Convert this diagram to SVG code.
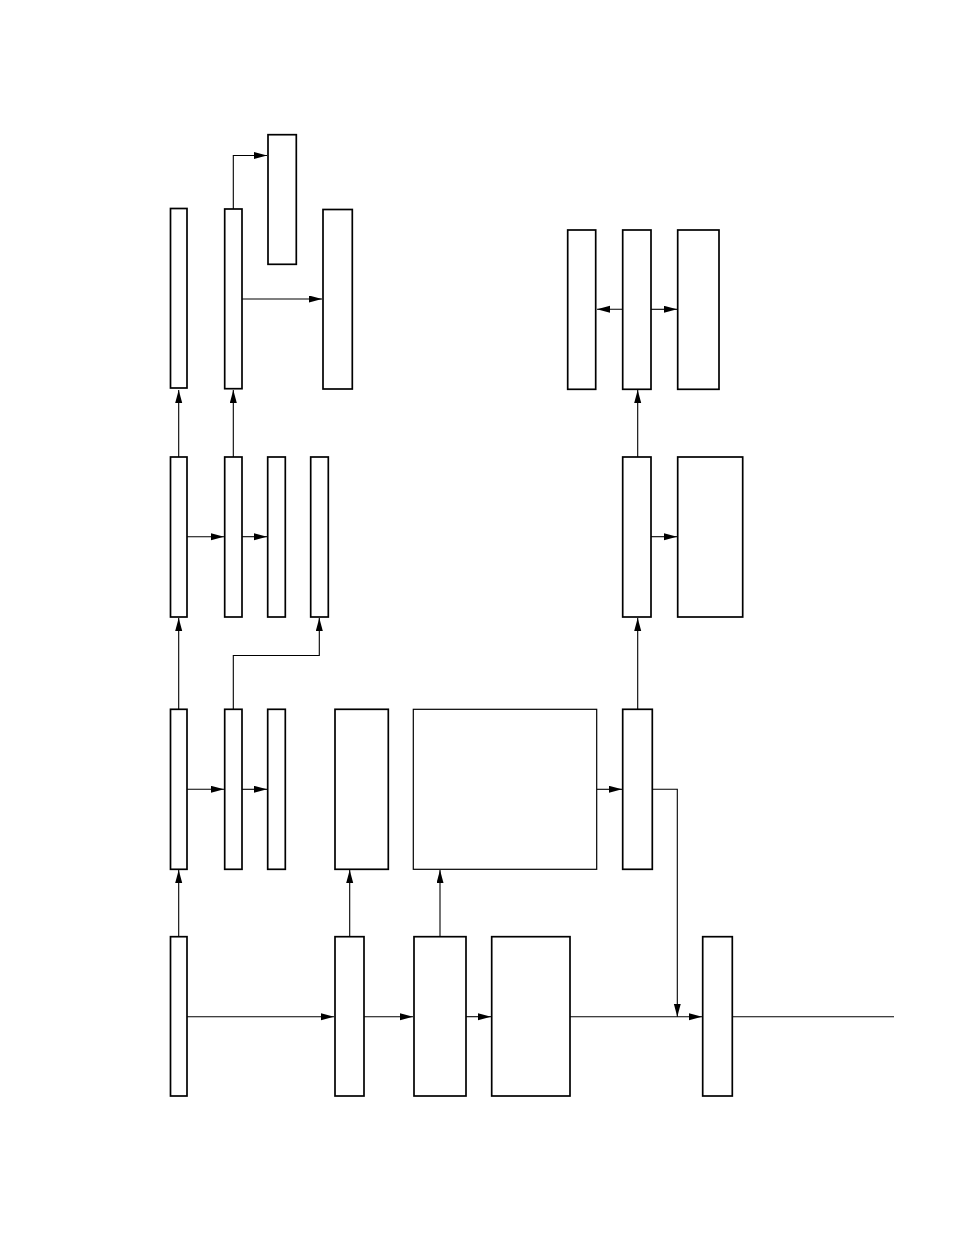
<svg xmlns="http://www.w3.org/2000/svg" width="954" height="1235" viewBox="0 0 954 1235">
<style>
.box{fill:#fff;stroke:#000;stroke-width:1.7}
.thin{fill:#fff;stroke:#000;stroke-width:1.2}
.c{fill:none;stroke:#000;stroke-width:1.1}
</style>
<defs>
<marker id="ah" markerUnits="userSpaceOnUse" markerWidth="14" markerHeight="8" refX="13" refY="3.5" orient="auto">
<path d="M0,0 L13,3.5 L0,7 z" fill="#000"/>
</marker>
</defs>
<rect width="954" height="1235" fill="#fff"/>
<g id="connectors">
<path class="c" d="M233.3,209 V155.5 H267" marker-end="url(#ah)"/>
<path class="c" d="M242,299 H322" marker-end="url(#ah)"/>
<path class="c" d="M178.7,457 V390" marker-end="url(#ah)"/>
<path class="c" d="M233.3,457 V390" marker-end="url(#ah)"/>
<path class="c" d="M187,536.7 H224" marker-end="url(#ah)"/>
<path class="c" d="M242,536.7 H267" marker-end="url(#ah)"/>
<path class="c" d="M637.7,309.3 H597" marker-end="url(#ah)"/>
<path class="c" d="M651,309.3 H677" marker-end="url(#ah)"/>
<path class="c" d="M637.7,457 V390" marker-end="url(#ah)"/>
<path class="c" d="M651,536.7 H677" marker-end="url(#ah)"/>
<path class="c" d="M178.7,709 V618" marker-end="url(#ah)"/>
<path class="c" d="M233.3,709 V655.5 H319.3 V618" marker-end="url(#ah)"/>
<path class="c" d="M637.7,709 V618" marker-end="url(#ah)"/>
<path class="c" d="M187,789.3 H224" marker-end="url(#ah)"/>
<path class="c" d="M242,789.3 H267" marker-end="url(#ah)"/>
<path class="c" d="M596.7,789.3 H622" marker-end="url(#ah)"/>
<path class="c" d="M652,789.3 H677.3 V1016.7" marker-end="url(#ah)"/>
<path class="c" d="M178.7,936.7 V870" marker-end="url(#ah)"/>
<path class="c" d="M349.7,936.7 V870" marker-end="url(#ah)"/>
<path class="c" d="M440,936.7 V870" marker-end="url(#ah)"/>
<path class="c" d="M187,1016.7 H334" marker-end="url(#ah)"/>
<path class="c" d="M364,1016.7 H413" marker-end="url(#ah)"/>
<path class="c" d="M466,1016.7 H491" marker-end="url(#ah)"/>
<path class="c" d="M570,1016.7 H702" marker-end="url(#ah)"/>
<path class="c" d="M732.3,1016.7 H894"/>
</g>
<g id="nA"><rect class="box" x="170.5" y="208.5" width="16.5" height="179.5"/></g>
<g id="nB"><rect class="box" x="224.7" y="209" width="17.3" height="179.7"/></g>
<g id="nC"><rect class="box" x="268" y="134.7" width="28.3" height="129.6"/></g>
<g id="nD"><rect class="box" x="323" y="209.5" width="29.3" height="179.5"/></g>
<g id="nE"><rect class="box" x="170.5" y="457" width="16.5" height="160"/></g>
<g id="nF"><rect class="box" x="224.7" y="457" width="17.3" height="160"/></g>
<g id="nG"><rect class="box" x="267.7" y="457" width="17.6" height="160"/></g>
<g id="nH"><rect class="box" x="310.7" y="457" width="17.6" height="160"/></g>
<g id="nI"><rect class="box" x="567.7" y="230" width="28" height="159.3"/></g>
<g id="nJ"><rect class="box" x="622.7" y="230" width="28.3" height="159.3"/></g>
<g id="nK"><rect class="box" x="677.7" y="230" width="41.3" height="159.3"/></g>
<g id="nL"><rect class="box" x="622.7" y="457" width="28.3" height="160"/></g>
<g id="nM"><rect class="box" x="677.7" y="457" width="65" height="160"/></g>
<g id="nN"><rect class="box" x="170.5" y="709.3" width="16.5" height="160"/></g>
<g id="nO"><rect class="box" x="224.7" y="709.3" width="17.3" height="160"/></g>
<g id="nP"><rect class="box" x="267.7" y="709.3" width="17.6" height="160"/></g>
<g id="nQ"><rect class="box" x="335" y="709.3" width="53.3" height="160"/></g>
<g id="nR"><rect class="thin" x="413.3" y="709.3" width="183.4" height="160"/></g>
<g id="nS"><rect class="box" x="622.7" y="709.3" width="29.6" height="160"/></g>
<g id="nT"><rect class="box" x="170.5" y="936.7" width="16.5" height="159.3"/></g>
<g id="nU"><rect class="box" x="335" y="936.7" width="29" height="159.3"/></g>
<g id="nV"><rect class="box" x="414" y="936.7" width="52" height="159.3"/></g>
<g id="nW"><rect class="box" x="491.7" y="936.7" width="78.3" height="159.3"/></g>
<g id="nX"><rect class="box" x="702.7" y="936.7" width="29.6" height="159.3"/></g>
</svg>
